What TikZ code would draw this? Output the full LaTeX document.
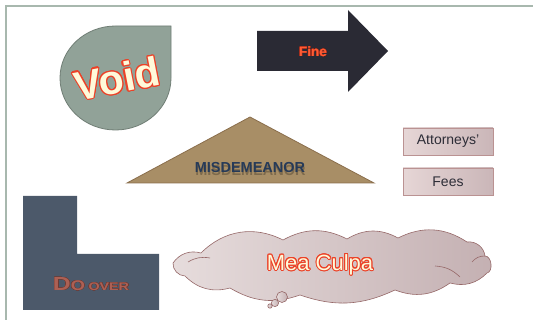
\documentclass[tikz,border=0pt]{standalone}
\usepackage{fontspec}
\setmainfont{Liberation Sans}
\usepackage[copies]{contour}

\definecolor{framegreen}{RGB}{168,184,174}
\definecolor{voidgray}{RGB}{145,162,152}
\definecolor{voidedge}{RGB}{112,126,117}
\definecolor{voidcream}{RGB}{255,250,218}
\definecolor{labelred}{RGB}{236,66,40}
\definecolor{finedark}{RGB}{42,42,52}
\definecolor{finered}{RGB}{255,92,52}
\definecolor{misdtan}{RGB}{168,142,102}
\definecolor{misdedge}{RGB}{138,110,76}
\definecolor{misdblue}{RGB}{38,58,88}
\definecolor{doslate}{RGB}{76,89,106}
\definecolor{docopper}{RGB}{172,96,84}
\definecolor{docopperdark}{RGB}{112,58,50}
\definecolor{feeleft}{RGB}{230,214,214}
\definecolor{feeright}{RGB}{202,182,184}
\definecolor{feeedge}{RGB}{186,146,146}
\definecolor{feetext}{RGB}{45,45,55}
\definecolor{cloudleft}{RGB}{230,220,220}
\definecolor{cloudright}{RGB}{196,176,178}
\definecolor{cloudedge}{RGB}{150,104,104}

\begin{document}
\begin{tikzpicture}[x=1pt,y=-1pt,
  feebox/.style={draw=feeedge,line width=0.8pt,left color=feeleft,right color=feeright,
    minimum width=90pt,minimum height=27pt,inner sep=0pt,text=feetext,font=\fontsize{14}{14}\selectfont},
  cloudline/.style={draw=cloudedge,line width=0.6pt}]
  \useasboundingbox (0,0) rectangle (533,320);
  \draw[framegreen,line width=2.5pt] (6,321) -- (6,6) -- (534,6);

  % shapes
  \draw[fill=voidgray,draw=voidedge,line width=0.8pt] (171,78)
    arc[start angle=0,end angle=270,x radius=55.5,y radius=52] -- (171,26) -- cycle;
  \fill[finedark] (257,31) -- (348,31) -- (348,10) -- (388,51) -- (348,92) -- (348,71) -- (257,71) -- cycle;
  \draw[fill=misdtan,draw=misdedge,line width=0.8pt] (250,117) -- (374,183) -- (127,183) -- cycle;
  \fill[doslate] (23,196) -- (77,196) -- (77,254) -- (159,254) -- (159,310) -- (23,310) -- cycle;

  % thought cloud
  \coordinate (c1) at (173,263);
  \coordinate (c2) at (201,253);
  \coordinate (c3) at (283,240);
  \coordinate (c4) at (347,239);
  \coordinate (c5) at (398,238);
  \coordinate (c6) at (467,242);
  \coordinate (c7) at (485,256);
  \coordinate (c8) at (487,273);
  \coordinate (c9) at (450,283);
  \coordinate (c10) at (395,290);
  \coordinate (c11) at (300,295);
  \coordinate (c12) at (230,288);
  \coordinate (c13) at (185,276);
  \path[cloudline,left color=cloudleft,right color=cloudright]
    (c1) to[bend left=35] (c2) to[bend left=36] (c3) to[bend left=28] (c4)
    to[bend left=30] (c5) to[bend left=30] (c6) to[bend left=45] (c7)
    to[bend left=85] (c8) to[bend left=30] (c9) to[bend left=28] (c10)
    to[bend left=22] (c11) to[bend left=25] (c12) to[bend left=30] (c13)
    to[bend left=45] (c1) -- cycle;
  \draw[cloudline] (435,266) to[bend left=20] (460,277);
  \draw[cloudline] (485,256) to[bend right=25] (472,262);
  \draw[cloudline] (188,262) to[bend left=20] (210,258);
  \path[cloudline,left color=cloudleft,right color=cloudright] (282,297) circle[radius=5.5];
  \path[cloudline,left color=cloudleft,right color=cloudright] (275,303) circle[radius=3.6];
  \path[cloudline,left color=cloudleft,right color=cloudright] (270,306) circle[radius=2.2];

  % labels
  \node[rotate=11] (void) at (117,79)
    {\fontsize{41}{41}\selectfont\bfseries\contourlength{1.1pt}\color{voidcream}\contour{labelred}{Void}};
  \node (fine) at (313,52)
    {\fontsize{13.5}{13.5}\selectfont\bfseries\contourlength{0.35pt}\color{finered}\contour{labelred!70!black}{Fine}};
  \node[text=black,opacity=0.25] (misdshadow) at (250.5,170.5)
    {\fontsize{14.5}{14.5}\selectfont\bfseries MISDEMEANOR};
  \node[text=misdblue] (misd) at (250,168)
    {\fontsize{14.5}{14.5}\selectfont\bfseries MISDEMEANOR};
  \node[feebox] (att) at (448,141.5) {Attorneys'};
  \node[feebox] (fees) at (448,181.5) {Fees};
  \node (doover) at (91,284)
    {\bfseries\contourlength{0.3pt}\color{docopper}\scalebox{1.3}[1]{\contour{docopperdark}{{\fontsize{19}{19}\selectfont D}{\fontsize{14}{14}\selectfont O} {\fontsize{11}{11}\selectfont OVER}}}};
  \node (culpa) at (320,265)
    {\fontsize{22}{22}\selectfont\contourlength{1pt}\color{voidcream}\contour{labelred}{Mea Culpa}};
\end{tikzpicture}
\end{document}
